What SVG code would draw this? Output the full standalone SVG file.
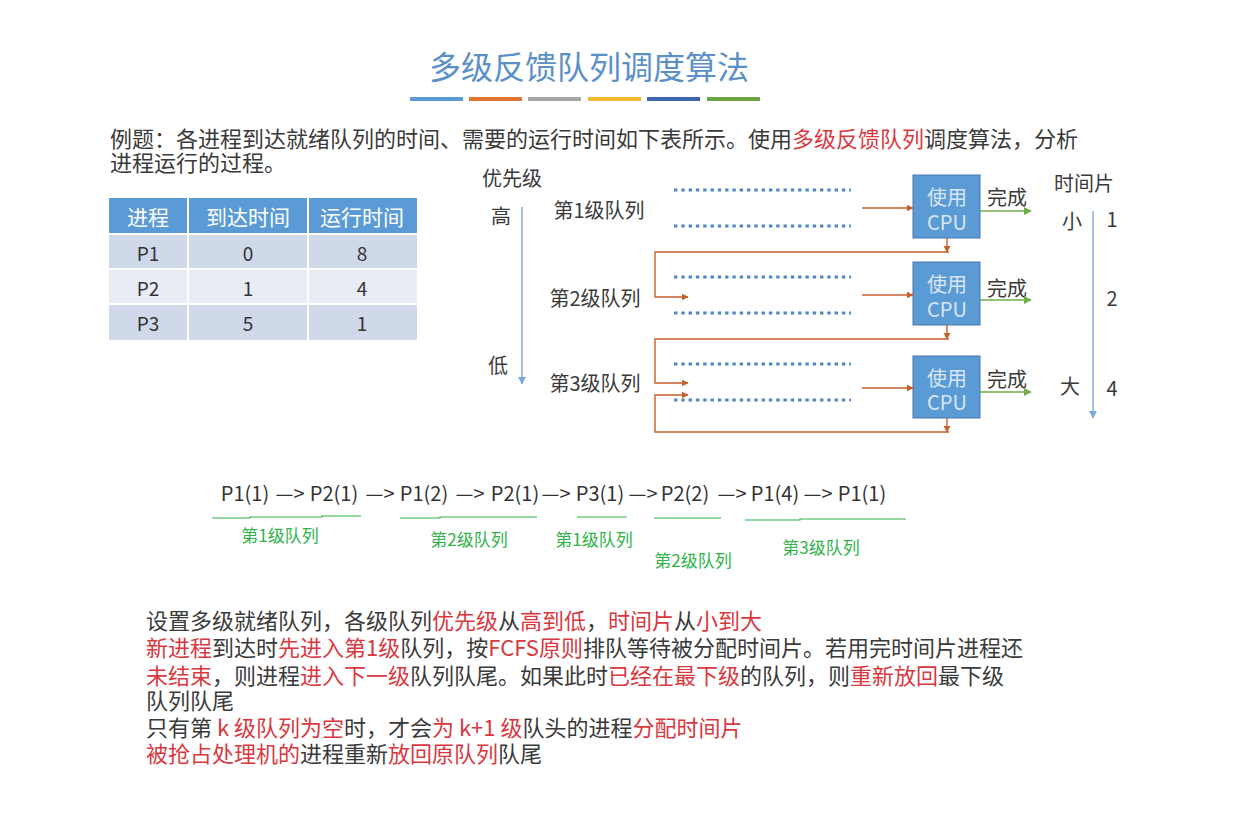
<svg xmlns="http://www.w3.org/2000/svg" width="1253" height="815" viewBox="0 0 1253 815">
<style>
text{font-family:"Noto Sans CJK SC","Liberation Sans",sans-serif;}
.t{fill:#3a3a3a;font-size:22px;}
.r{fill:#d9383f;}
.q{fill:#3a3a3a;font-size:20px;text-anchor:middle;dominant-baseline:central;}
.hd{fill:#ffffff;font-size:21px;text-anchor:middle;dominant-baseline:central;}
.cell{fill:#333333;font-size:19px;text-anchor:middle;dominant-baseline:central;}
.dot{stroke:#4f86c6;stroke-width:3.2;stroke-dasharray:3.4 3.9;fill:none;}
.or{stroke:#c4602c;stroke-width:1.4;fill:none;}
.gr{stroke:#70ad47;stroke-width:1.4;fill:none;}
.bl{stroke:#7da6d8;stroke-width:1.4;fill:none;}
.cpu{fill:#5b9bd5;stroke:#4677aa;stroke-width:1;}
.cpt{font-size:20px;text-anchor:middle;dominant-baseline:central;fill:#d9e6f4;}
.seq{fill:#333333;font-size:20px;text-anchor:middle;dominant-baseline:central;}
.gl{fill:#2fb34a;font-size:17px;text-anchor:middle;dominant-baseline:central;}
.ul{stroke:#2fb34a;stroke-width:1.2;fill:none;}
</style>
<defs>
<marker id="ao" viewBox="0 0 10 10" refX="9" refY="5" markerWidth="7" markerHeight="7" orient="auto" markerUnits="userSpaceOnUse"><path d="M0,0 L10,5 L0,10 z" fill="#c4602c"/></marker>
<marker id="ag" viewBox="0 0 10 10" refX="9" refY="5" markerWidth="8" markerHeight="8" orient="auto" markerUnits="userSpaceOnUse"><path d="M0,0 L10,5 L0,10 z" fill="#70ad47"/></marker>
<marker id="ab" viewBox="0 0 10 10" refX="9" refY="5" markerWidth="8" markerHeight="8" orient="auto" markerUnits="userSpaceOnUse"><path d="M0,0 L10,5 L0,10 z" fill="#7da6d8"/></marker>
</defs>
<rect width="1253" height="815" fill="#ffffff"/>

<g id="title">
<text x="589" y="79" font-size="32" fill="#5a8fc8" text-anchor="middle">多级反馈队列调度算法</text>
<rect x="410" y="97" width="53" height="4" fill="#5b9bd5"/>
<rect x="469" y="97" width="53" height="4" fill="#e07634"/>
<rect x="528" y="97" width="53" height="4" fill="#a5a5a5"/>
<rect x="588" y="97" width="53" height="4" fill="#f5b630"/>
<rect x="647" y="97" width="53" height="4" fill="#3f66b0"/>
<rect x="707" y="97" width="53" height="4" fill="#6ea544"/>
</g>

<g id="intro">
<text class="t" x="110" y="147">例题：各进程到达就绪队列的时间、需要的运行时间如下表所示。使用<tspan class="r">多级反馈队列</tspan>调度算法，分析</text>
<text class="t" x="110" y="171">进程运行的过程。</text>
</g>

<g id="table">
<rect x="109" y="198" width="78" height="35" fill="#5b9bd5"/>
<rect x="189" y="198" width="118" height="35" fill="#5b9bd5"/>
<rect x="309" y="198" width="108" height="35" fill="#5b9bd5"/>
<rect x="109" y="235" width="78" height="33" fill="#cfd9ea"/>
<rect x="189" y="235" width="118" height="33" fill="#cfd9ea"/>
<rect x="309" y="235" width="108" height="33" fill="#cfd9ea"/>
<rect x="109" y="270" width="78" height="33" fill="#e8ecf4"/>
<rect x="189" y="270" width="118" height="33" fill="#e8ecf4"/>
<rect x="309" y="270" width="108" height="33" fill="#e8ecf4"/>
<rect x="109" y="305" width="78" height="35" fill="#cfd9ea"/>
<rect x="189" y="305" width="118" height="35" fill="#cfd9ea"/>
<rect x="309" y="305" width="108" height="35" fill="#cfd9ea"/>
<text class="hd" x="148" y="216">进程</text>
<text class="hd" x="248" y="216">到达时间</text>
<text class="hd" x="362" y="216">运行时间</text>
<text class="cell" x="148" y="252">P1</text>
<text class="cell" x="248" y="252">0</text>
<text class="cell" x="362" y="252">8</text>
<text class="cell" x="148" y="287">P2</text>
<text class="cell" x="248" y="287">1</text>
<text class="cell" x="362" y="287">4</text>
<text class="cell" x="148" y="322">P3</text>
<text class="cell" x="248" y="322">5</text>
<text class="cell" x="362" y="322">1</text>
</g>

<g id="priority">
<text class="q" x="512" y="177">优先级</text>
<text class="q" x="501" y="215">高</text>
<text class="q" x="498" y="364">低</text>
</g>

<g id="timeslice">
<text class="q" x="1084" y="182">时间片</text>
<text class="q" x="1072" y="220">小</text>
<text class="q" x="1112" y="218">1</text>
<text class="q" x="1112" y="297">2</text>
<text class="q" x="1070" y="385">大</text>
<text class="q" x="1112" y="387">4</text>
</g>

<g id="queue1">
<text class="q" x="599" y="209">第1级队列</text>
<line class="dot" x1="674" y1="190" x2="851" y2="190"/>
<line class="dot" x1="674" y1="226" x2="851" y2="226"/>
</g>
<g id="queue2">
<text class="q" x="595" y="297">第2级队列</text>
<line class="dot" x1="674" y1="277" x2="851" y2="277"/>
<line class="dot" x1="674" y1="313" x2="851" y2="313"/>
</g>
<g id="queue3">
<text class="q" x="595" y="382">第3级队列</text>
<line class="dot" x1="674" y1="364" x2="851" y2="364"/>
<line class="dot" x1="674" y1="400" x2="851" y2="400"/>
</g>

<g id="cpu1">
<rect class="cpu" x="913" y="175" width="67" height="63"/>
<text class="cpt" x="947" y="196">使用</text>
<text class="cpt" x="947" y="221" font-size="19" fill="#eef4fb">CPU</text>
<text class="q" x="1007" y="196">完成</text>
</g>
<g id="cpu2">
<rect class="cpu" x="913" y="262" width="67" height="63"/>
<text class="cpt" x="947" y="283">使用</text>
<text class="cpt" x="947" y="308" font-size="19" fill="#eef4fb">CPU</text>
<text class="q" x="1007" y="287">完成</text>
</g>
<g id="cpu3">
<rect class="cpu" x="913" y="356" width="67" height="62"/>
<text class="cpt" x="947" y="377">使用</text>
<text class="cpt" x="947" y="401" font-size="19" fill="#eef4fb">CPU</text>
<text class="q" x="1007" y="378">完成</text>
</g>

<g id="connectors">
<line class="bl" x1="522" y1="207" x2="522" y2="384" marker-end="url(#ab)"/>
<line class="bl" x1="1093" y1="211" x2="1093" y2="418" marker-end="url(#ab)"/>
<line class="or" x1="862" y1="208" x2="913" y2="208" marker-end="url(#ao)"/>
<line class="or" x1="862" y1="295" x2="913" y2="295" marker-end="url(#ao)"/>
<line class="or" x1="862" y1="388" x2="913" y2="388" marker-end="url(#ao)"/>
<line class="gr" x1="980" y1="211" x2="1031" y2="211" marker-end="url(#ag)"/>
<line class="gr" x1="980" y1="300" x2="1031" y2="300" marker-end="url(#ag)"/>
<line class="gr" x1="980" y1="392" x2="1031" y2="392" marker-end="url(#ag)"/>
<line class="or" x1="947" y1="238" x2="947" y2="252" marker-end="url(#ao)"/>
<path class="or" d="M949,252 H655 V297 H688" marker-end="url(#ao)"/>
<line class="or" x1="947" y1="325" x2="947" y2="339" marker-end="url(#ao)"/>
<path class="or" d="M949,339 H655 V383 H688" marker-end="url(#ao)"/>
<line class="or" x1="947" y1="418" x2="947" y2="432" marker-end="url(#ao)"/>
<path class="or" d="M949,432 H655 V395 H688" marker-end="url(#ao)"/>
</g>

<g id="sequence">
<text class="seq" x="245" y="492">P1(1)</text>
<text class="seq" x="290" y="492">—&gt;</text>
<text class="seq" x="334" y="492">P2(1)</text>
<text class="seq" x="380" y="492">—&gt;</text>
<text class="seq" x="424" y="492">P1(2)</text>
<text class="seq" x="470" y="492">—&gt;</text>
<text class="seq" x="515" y="492">P2(1)</text>
<text class="seq" x="556" y="492">—&gt;</text>
<text class="seq" x="600" y="492">P3(1)</text>
<text class="seq" x="643" y="492">—&gt;</text>
<text class="seq" x="685" y="492">P2(2)</text>
<text class="seq" x="732" y="492">—&gt;</text>
<text class="seq" x="775" y="492">P1(4)</text>
<text class="seq" x="818" y="492">—&gt;</text>
<text class="seq" x="862" y="492">P1(1)</text>
<polyline class="ul" points="212,518 250,518 250,517 322,517 322,516 361,516"/>
<polyline class="ul" points="400,518 440,518 440,517 537,517"/>
<line class="ul" x1="577" y1="517" x2="627" y2="517"/>
<line class="ul" x1="654" y1="518" x2="721" y2="518"/>
<polyline class="ul" points="745,520 800,520 800,519 906,519"/>
<text class="gl" x="280" y="534">第1级队列</text>
<text class="gl" x="469" y="538">第2级队列</text>
<text class="gl" x="594" y="538">第1级队列</text>
<text class="gl" x="693" y="559">第2级队列</text>
<text class="gl" x="821" y="546">第3级队列</text>
</g>

<g id="rules">
<text class="t" x="146" y="629">设置多级就绪队列，各级队列<tspan class="r">优先级</tspan>从<tspan class="r">高到低</tspan>，<tspan class="r">时间片</tspan>从<tspan class="r">小到大</tspan></text>
<text class="t" x="146" y="656"><tspan class="r">新进程</tspan>到达时<tspan class="r">先进入第1级</tspan>队列，按<tspan class="r">FCFS原则</tspan>排队等待被分配时间片。若用完时间片进程还</text>
<text class="t" x="146" y="684"><tspan class="r">未结束</tspan>，则进程<tspan class="r">进入下一级</tspan>队列队尾。如果此时<tspan class="r">已经在最下级</tspan>的队列，则<tspan class="r">重新放回</tspan>最下级</text>
<text class="t" x="146" y="709">队列队尾</text>
<text class="t" x="146" y="736">只有第 <tspan class="r">k 级队列为空</tspan>时，才会<tspan class="r">为 k+1 级</tspan>队头的进程<tspan class="r">分配时间片</tspan></text>
<text class="t" x="146" y="762"><tspan class="r">被抢占处理机的</tspan>进程重新<tspan class="r">放回原队列</tspan>队尾</text>
</g>
</svg>
